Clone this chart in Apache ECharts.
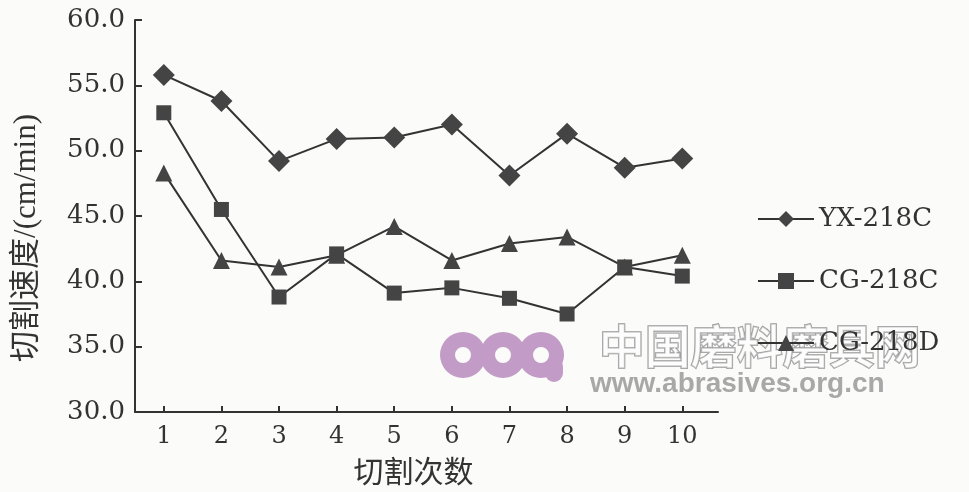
<!DOCTYPE html>
<html>
<head>
<meta charset="utf-8">
<script src="https://cdn.jsdelivr.net/npm/echarts@6/dist/echarts.min.js"></script>
<style>
html,body{margin:0;padding:0;background:#fbfbfa;}
#c{width:969px;height:492px;}
</style>
</head>
<body>
<div id="c"></div>
<script>
var cuts = [1, 2, 3, 4, 5, 6, 7, 8, 9, 10];
var yx218C = [55.8, 53.8, 49.2, 50.9, 51.0, 52.0, 48.1, 51.3, 48.7, 49.4];
var cg218C = [52.9, 45.5, 38.8, 42.1, 39.1, 39.5, 38.7, 37.5, 41.1, 40.4];
var cg218D = [48.3, 41.6, 41.1, 42.0, 44.2, 41.6, 42.9, 43.4, 41.1, 42.0];
var yTicks = [30, 35, 40, 45, 50, 55, 60];

function pairs(xs, ys) { return xs.map(function (x, i) { return [x, ys[i]]; }); }

var serif = 'DejaVu Serif';
var mixed = '"Liberation Serif", "Noto Sans CJK SC"';
var ink = '#333333';
var chart = echarts.init(document.getElementById('c'), null, {renderer: 'canvas'});

function mkSeries(name, data, symbol, size) {
  return {
    name: name, type: 'line', data: pairs(cuts, data),
    symbol: symbol, symbolSize: size,
    lineStyle: {color: ink, width: 2},
    itemStyle: {color: '#444'},
    emphasis: {disabled: true},
    z: 3
  };
}

chart.setOption({
  animation: false,
  backgroundColor: '#fbfbfa',
  grid: {left: 135, right: 251, top: 20, bottom: 80, containLabel: false},
  legend: {
    orient: 'vertical', left: 752, top: 201, itemGap: 36,
    itemWidth: 56, itemHeight: 20,
    textStyle: {fontFamily: serif, fontSize: 26, color: ink, padding: [0, 0, 0, 0]},
    data: ['YX-218C', 'CG-218C', 'CG-218D']
  },
  xAxis: {
    type: 'value', min: 0.5, max: 10.62,
    name: '切割次数', nameLocation: 'middle', nameGap: 44,
    nameTextStyle: {fontFamily: 'Noto Sans CJK SC', fontSize: 30, color: ink, padding: [0, 26, 0, 0]},
    axisLine: {show: true, lineStyle: {color: ink, width: 2}},
    axisTick: {show: true, inside: true, length: 6, lineStyle: {color: ink, width: 2}, customValues: cuts},
    axisLabel: {fontFamily: serif, fontSize: 24, color: ink, margin: 13, customValues: cuts},
    splitLine: {show: false}
  },
  yAxis: {
    type: 'value', min: 30, max: 60, interval: 5,
    name: '切割速度/(cm/min)', nameLocation: 'middle', nameGap: 93,
    nameTextStyle: {fontFamily: mixed, fontSize: 31, color: ink, padding: [0, 44, 0, 0]},
    axisLine: {show: true, lineStyle: {color: ink, width: 2}},
    axisTick: {show: true, inside: true, length: 7, lineStyle: {color: ink, width: 2}},
    axisLabel: {fontFamily: serif, fontSize: 26, color: ink, margin: 10,
      formatter: function (v) { return yTicks.indexOf(v) >= 0 ? v.toFixed(1) : ''; }},
    splitLine: {show: false}
  },
  graphic: [
    {type: 'ring', shape: {cx: 463, cy: 355, r: 23, r0: 8}, style: {fill: '#c29bc6'}, z: 1},
    {type: 'ring', shape: {cx: 503, cy: 355, r: 23, r0: 8}, style: {fill: '#c29bc6'}, z: 1},
    {type: 'ring', shape: {cx: 541, cy: 355, r: 23, r0: 8}, style: {fill: '#c29bc6'}, z: 1},
    {type: 'rect', shape: {x: 545, y: 358, width: 18, height: 24, r: 9}, style: {fill: '#c29bc6'}, z: 1},
    {type: 'text', left: 598, top: 322, z: 1,
      style: {text: '中国磨料磨具网', font: 'bold 46px "Noto Sans CJK SC"', fill: 'rgba(255,255,255,0.5)', stroke: '#999', lineWidth: 1.5}},
    {type: 'text', left: 590, top: 370, z: 1,
      style: {text: 'www.abrasives.org.cn', font: 'bold 28px "Liberation Sans"', fill: '#a8a8a8'}}
  ],
  series: [
    mkSeries('YX-218C', yx218C, 'diamond', 22),
    mkSeries('CG-218C', cg218C, 'rect', 15),
    mkSeries('CG-218D', cg218D, 'triangle', 17)
  ]
});
</script>
</body>
</html>
